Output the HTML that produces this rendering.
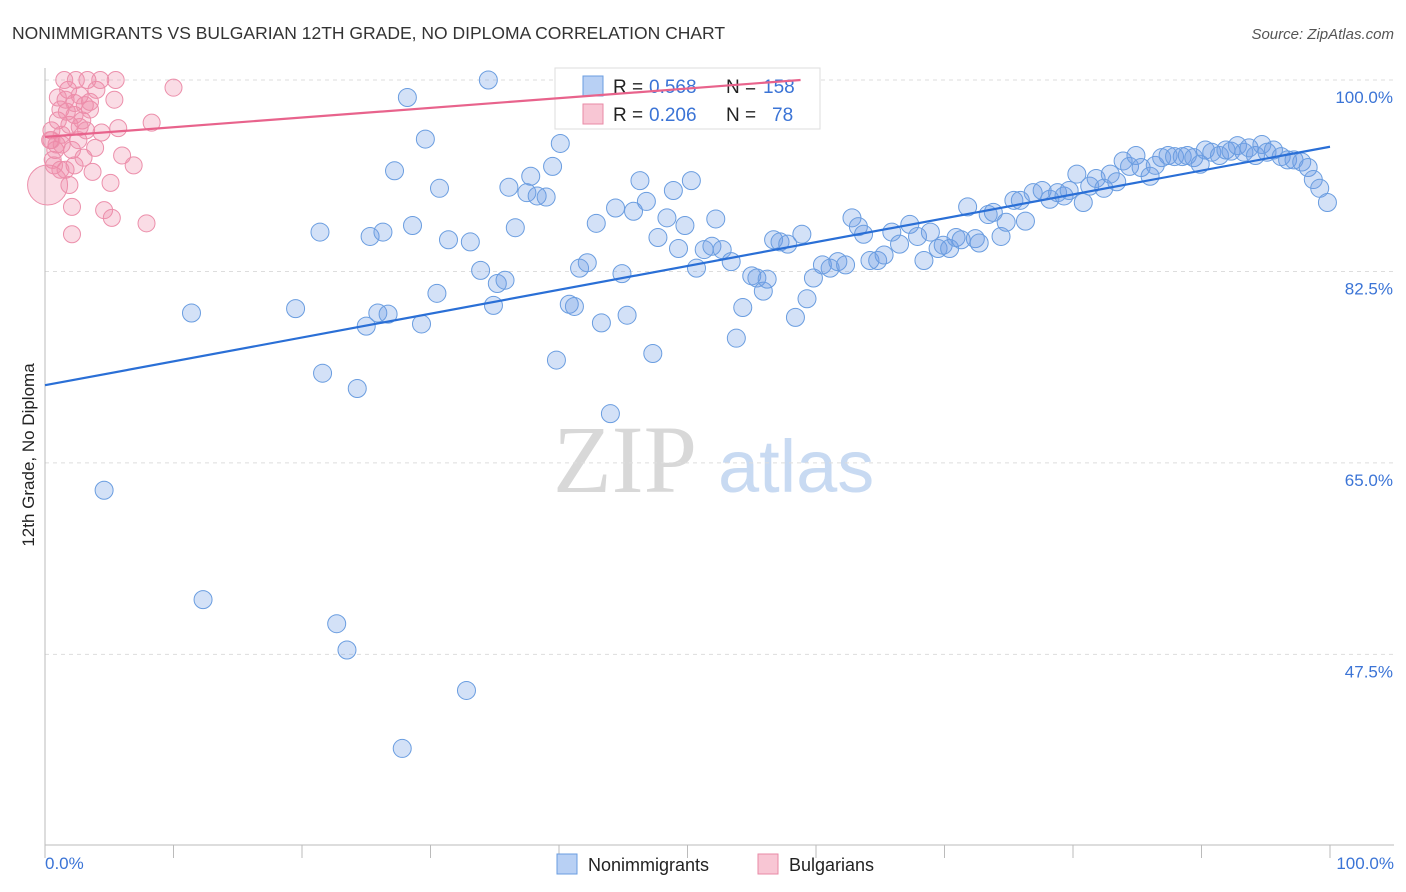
<!DOCTYPE html>
<html><head><meta charset="utf-8"><style>
body{margin:0;background:#fff;font-family:"Liberation Sans",sans-serif}
svg{display:block}
</style></head><body>
<svg id="chart" width="1406" height="892">
<text x="12" y="39" font-size="17.5" fill="#333">NONIMMIGRANTS VS BULGARIAN 12TH GRADE, NO DIPLOMA CORRELATION CHART</text>
<text x="1394" y="39" font-size="15" fill="#555" font-style="italic" text-anchor="end">Source: ZipAtlas.com</text>
<g>
<text x="553" y="492" font-size="96" font-family="Liberation Serif,serif" fill="#d8d8d8">ZIP</text>
<text x="718" y="492" font-size="74" fill="#c8daf2">atlas</text>
</g>
<g id="grid"></g>
<g id="axes"></g>
<g>
<rect x="555" y="68" width="265" height="61" fill="#fff" stroke="#ddd"/>
<rect x="583" y="76" width="20" height="20" fill="#b8d0f4" stroke="#6a9de0"/>
<rect x="583" y="104" width="20" height="20" fill="#f8c6d4" stroke="#e88aa6"/>
<text x="613" y="93" font-size="19" fill="#222">R =</text>
<text x="649" y="93" font-size="19" fill="#3b74d6">0.568</text>
<text x="726" y="93" font-size="19" fill="#222">N =</text>
<text x="763" y="93" font-size="19" fill="#3b74d6">158</text>
<text x="613" y="121" font-size="19" fill="#222">R =</text>
<text x="649" y="121" font-size="19" fill="#3b74d6">0.206</text>
<text x="726" y="121" font-size="19" fill="#222">N =</text>
<text x="772" y="121" font-size="19" fill="#3b74d6">78</text>
</g>
<g id="pts"></g>
<g id="trend"></g>
<text transform="translate(34,455) rotate(-90)" font-size="17" fill="#222" text-anchor="middle">12th Grade, No Diploma</text>
<text x="45" y="869" font-size="17" fill="#3b74d6">0.0%</text>
<text x="1394" y="869" font-size="17" fill="#3b74d6" text-anchor="end">100.0%</text>
<g>
<rect x="557" y="854" width="20" height="20" fill="#b8d0f4" stroke="#6a9de0"/>
<text x="588" y="871" font-size="18" fill="#222">Nonimmigrants</text>
<rect x="758" y="854" width="20" height="20" fill="#f8c6d4" stroke="#e88aa6"/>
<text x="789" y="871" font-size="18" fill="#222">Bulgarians</text>
</g>
</svg>
<script>
const yTicks=[100,82.5,65,47.5];
const yTickLabels=["100.0%","82.5%","65.0%","47.5%"];
const xTicks=[0,10,20,30,40,50,60,70,80,90,100];
const blueX=[4.6,12.3,22.7,23.5,32.8,27.8,11.4,19.5,21.6,24.3,21.4,25.3,26.3,25.0,25.9,26.7,29.3,30.5,27.2,28.2,29.6,28.6,30.7,31.4,33.1,33.9,34.5,35.2,34.9,35.8,36.1,36.6,37.5,37.8,38.3,39.0,39.5,40.1,39.8,40.8,41.2,41.6,42.2,42.9,43.3,44.0,44.4,44.9,45.3,45.8,46.3,46.8,47.3,47.7,48.4,48.9,49.3,49.8,50.3,50.7,51.3,51.9,52.2,52.7,53.4,53.8,54.3,55.0,55.4,55.9,56.2,56.7,57.2,57.8,58.4,58.9,59.3,59.8,60.5,61.1,61.7,62.3,62.8,63.3,63.7,64.2,64.8,65.3,65.9,66.5,67.3,67.9,68.4,68.9,69.5,69.9,70.4,70.9,71.3,71.8,72.4,72.7,73.4,73.8,74.4,74.8,75.4,75.9,76.3,76.9,77.6,78.2,78.8,79.3,79.7,80.3,80.8,81.3,81.8,82.4,82.9,83.4,83.9,84.4,84.9,85.3,86.0,86.4,86.9,87.4,87.9,88.5,88.9,89.4,89.9,90.3,90.8,91.4,91.9,92.3,92.8,93.3,93.7,94.2,94.7,95.1,95.6,96.2,96.7,97.2,97.8,98.3,98.7,99.2,99.8];
const blueY=[62.5,52.5,50.3,47.9,44.2,38.9,78.7,79.1,73.2,71.8,86.1,85.7,86.1,77.5,78.7,78.6,77.7,80.5,91.7,98.4,94.6,86.7,90.1,85.4,85.2,82.6,100,81.4,79.4,81.7,90.2,86.5,89.7,91.2,89.4,89.3,92.1,94.2,74.4,79.5,79.3,82.8,83.3,86.9,77.8,69.5,88.3,82.3,78.5,88.0,90.8,88.9,75.0,85.6,87.4,89.9,84.6,86.7,90.8,82.8,84.5,84.8,87.3,84.5,83.4,76.4,79.2,82.1,81.9,80.7,81.8,85.4,85.2,85.0,78.3,85.9,80.0,81.9,83.1,82.8,83.4,83.1,87.4,86.6,85.9,83.5,83.5,84.0,86.1,85.0,86.8,85.7,83.5,86.1,84.6,84.9,84.6,85.6,85.4,88.4,85.5,85.1,87.7,87.9,85.7,87.0,89.0,89.0,87.1,89.7,89.9,89.1,89.7,89.4,89.9,91.4,88.8,90.3,91.0,90.1,91.4,90.7,92.6,92.1,93.1,92.0,91.2,92.2,92.9,93.1,93.0,93.0,93.1,92.9,92.3,93.6,93.4,93.1,93.6,93.5,94.0,93.4,93.8,93.1,94.1,93.4,93.6,93.0,92.7,92.7,92.5,92.0,90.9,90.1,88.8];
const pinkX=[0.2,0.4,0.5,0.8,0.6,1.0,1.2,1.3,1.6,1.8,1.9,2.1,2.3,1.6,1.9,2.1,2.1,2.3,2.6,2.7,2.9,3.0,3.2,3.3,3.5,3.7,3.9,4.0,4.3,4.4,4.6,5.1,5.2,5.4,5.5,5.7,6.0,6.9,7.9,8.3,10.0,0.9,1.2,1.5,2.4,3.1,3.5,1.0,1.3,1.7,2.3,2.7,0.5,0.7];
const pinkY=[90.4,94.5,95.4,93.6,92.7,96.3,97.3,95.0,98.2,99.1,95.9,93.6,92.2,91.8,90.4,88.4,85.9,96.8,94.5,98.6,96.3,92.9,95.4,100,97.3,91.6,93.8,99.1,100,95.2,88.1,90.6,87.4,98.2,100,95.6,93.1,92.2,86.9,96.1,99.3,94.1,91.8,100,100,97.7,98.0,98.4,94.1,97.1,97.9,95.7,94.5,92.2];
const blueTrend=[[0,72.1],[100,93.9]];
const pinkTrend=[[0,94.8],[58.8,100]];
const NS="http://www.w3.org/2000/svg";
const X0=45,X1=1330,YTOP=80,PXPER=10.94;
function xs(v){return X0+(X1-X0)*v/100;}
function ys(v){return YTOP+(100-v)*PXPER;}
function mk(tag,attrs,parent){const e=document.createElementNS(NS,tag);for(const k in attrs)e.setAttribute(k,attrs[k]);parent.appendChild(e);return e;}
const grid=document.getElementById('grid'),axes=document.getElementById('axes'),pts=document.getElementById('pts'),trend=document.getElementById('trend');
yTicks.forEach((t,i)=>{
 const l=mk('line',{x1:X0,x2:1394,y1:ys(t),y2:ys(t),stroke:'#ddd','stroke-dasharray':'4,4'},grid);
 
 
 const tx=mk('text',{x:1393,y:ys(t)+23,'font-size':17,fill:'#3b74d6','text-anchor':'end'},grid);
 tx.textContent=yTickLabels[i];
 
 
});
const ax=mk('line',{x1:X0,x2:1394,y1:845,y2:845,stroke:'#bbb'},axes);


const ay=mk('line',{x1:X0,x2:X0,y1:68,y2:845,stroke:'#bbb'},axes);


xTicks.forEach(t=>{
 const l=mk('line',{x1:xs(t),x2:xs(t),y1:845,y2:858,stroke:'#bbb'},axes);
 
 
});
pinkX.forEach((x,i)=>{
 const c=mk('circle',{cx:xs(x),cy:ys(pinkY[i]),r:i===0?20:8.5,fill:'rgba(240,140,170,0.3)',stroke:'#ec8fab','stroke-width':1},pts);
 
 
});
blueX.forEach((x,i)=>{
 const c=mk('circle',{cx:xs(x),cy:ys(blueY[i]),r:9,fill:'rgba(110,155,230,0.3)',stroke:'#6a9de0','stroke-width':1},pts);
 
 
});
const bt=mk('line',{x1:xs(blueTrend[0][0]),y1:ys(blueTrend[0][1]),x2:xs(blueTrend[1][0]),y2:ys(blueTrend[1][1]),stroke:'#2a6fd6','stroke-width':2.2},trend);


const pt=mk('line',{x1:xs(pinkTrend[0][0]),y1:ys(pinkTrend[0][1]),x2:xs(pinkTrend[1][0]),y2:ys(pinkTrend[1][1]),stroke:'#e8638c','stroke-width':2.2},trend);


</script>
</body></html>
